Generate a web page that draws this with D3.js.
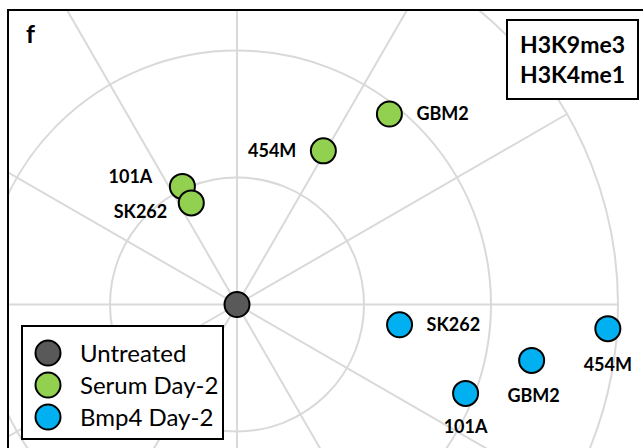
<!DOCTYPE html>
<html>
<head>
<meta charset="utf-8">
<script src="https://cdn.jsdelivr.net/npm/d3@7"></script>
<style>
  body { margin: 0; background: #fff; }
  svg { display: block; }
</style>
</head>
<body>
<div id="chart"></div>
<script>
// data (units of the polar grid, untreated at origin)
const untreatedX = [0];
const untreatedY = [0];

const serumNames = ["101A", "SK262", "454M", "GBM2"];
const serumX = [-0.43, -0.36, 0.68, 1.20];
const serumY = [0.93, 0.80, 1.21, 1.50];

const bmp4Names = ["SK262", "GBM2", "454M", "101A"];
const bmp4X = [1.28, 2.32, 2.92, 1.80];
const bmp4Y = [-0.16, -0.44, -0.19, -0.70];

const legendLabels = ["Untreated", "Serum Day-2", "Bmp4 Day-2"];
const boxLines = ["H3K9me3", "H3K4me1"];
const panelLetter = "f";

const gridRadii = [1, 2, 3];
const gridAngles = d3.range(0, 360, 30);

const width = 643, height = 448;
const colors = ["#595959", "#92d050", "#00b0f0"];

const svg = d3.select("#chart")
  .append("svg")
  .attr("width", width)
  .attr("height", height);

// scales: one grid unit = 127px
const x = d3.scaleLinear().domain([0, 1]).range([237, 364]);
const y = d3.scaleLinear().domain([0, 1]).range([304.5, 177.5]);
const unit = x(1) - x(0);

svg.append("clipPath").attr("id", "clip")
  .append("rect").attr("x", 8).attr("y", 10).attr("width", width).attr("height", height);

const grid = svg.append("g").attr("clip-path", "url(#clip)")
  .attr("fill", "none").attr("stroke", "#d9d9d9").attr("stroke-width", 2);

grid.selectAll("circle")
  .data(gridRadii)
  .enter().append("circle")
  .attr("cx", x(0)).attr("cy", y(0))
  .attr("r", d => d * unit);

const rMax = d3.max(gridRadii);
grid.selectAll("line")
  .data(gridAngles)
  .enter().append("line")
  .attr("x1", x(0)).attr("y1", y(0))
  .attr("x2", a => x(rMax * Math.cos(a * Math.PI / 180)))
  .attr("y2", a => y(rMax * Math.sin(a * Math.PI / 180)));

// frame (top and left edges only, figure is cropped)
svg.append("path")
  .attr("d", `M8,${height} V10 H${width}`)
  .attr("fill", "none").attr("stroke", "#000").attr("stroke-width", 2);

svg.append("text")
  .attr("x", 26).attr("y", 43)
  .attr("font-family", "Lato, sans-serif").attr("font-weight", "bold")
  .attr("font-size", 25)
  .text(panelLetter);

// points
function drawPoints(xs, ys, color) {
  svg.append("g").selectAll("circle")
    .data(xs.map((d, i) => [d, ys[i]]))
    .enter().append("circle")
    .attr("cx", d => x(d[0])).attr("cy", d => y(d[1]))
    .attr("r", 12.5)
    .attr("fill", color).attr("stroke", "#000").attr("stroke-width", 2);
}
drawPoints(serumX, serumY, colors[1]);
drawPoints(bmp4X, bmp4Y, colors[2]);
drawPoints(untreatedX, untreatedY, colors[0]);

// point labels
const serumPlace = [["end", -30, -3], ["end", -24, 15], ["end", -27, 6], ["start", 27, 6]];
const bmp4Place = [["start", 27, 6], ["middle", 2, 42], ["middle", 0, 42], ["middle", 0, 40]];

function drawLabels(names, xs, ys, place) {
  svg.append("g")
    .attr("font-family", "Lato, sans-serif").attr("font-weight", "bold")
    .attr("font-size", 18)
    .selectAll("text")
    .data(names)
    .enter().append("text")
    .attr("text-anchor", (d, i) => place[i][0])
    .attr("x", (d, i) => x(xs[i]) + place[i][1])
    .attr("y", (d, i) => y(ys[i]) + place[i][2])
    .text(d => d);
}
drawLabels(serumNames, serumX, serumY, serumPlace);
drawLabels(bmp4Names, bmp4X, bmp4Y, bmp4Place);

// mark box top right
const box = svg.append("g");
box.append("rect")
  .attr("x", 507).attr("y", 20).attr("width", 131).attr("height", 79)
  .attr("fill", "#fff").attr("stroke", "#000").attr("stroke-width", 2);
box.selectAll("text")
  .data(boxLines)
  .enter().append("text")
  .attr("x", 572.5).attr("y", (d, i) => 53 + i * 30)
  .attr("text-anchor", "middle")
  .attr("font-family", "Lato, sans-serif").attr("font-weight", "bold")
  .attr("font-size", 23)
  .text(d => d);

// legend
const legend = svg.append("g");
legend.append("rect")
  .attr("x", 22).attr("y", 326).attr("width", 201).attr("height", 113)
  .attr("fill", "#fff").attr("stroke", "#000").attr("stroke-width", 2);
const items = legend.selectAll("g.item")
  .data(legendLabels)
  .enter().append("g")
  .attr("transform", (d, i) => `translate(48, ${353 + i * 32})`);
items.append("circle")
  .attr("r", 12.5)
  .attr("fill", (d, i) => colors[i]).attr("stroke", "#000").attr("stroke-width", 2);
items.append("text")
  .attr("x", 32).attr("y", 9)
  .attr("font-family", "Lato, sans-serif")
  .attr("font-size", 24)
  .text(d => d);
</script>
</body>
</html>
